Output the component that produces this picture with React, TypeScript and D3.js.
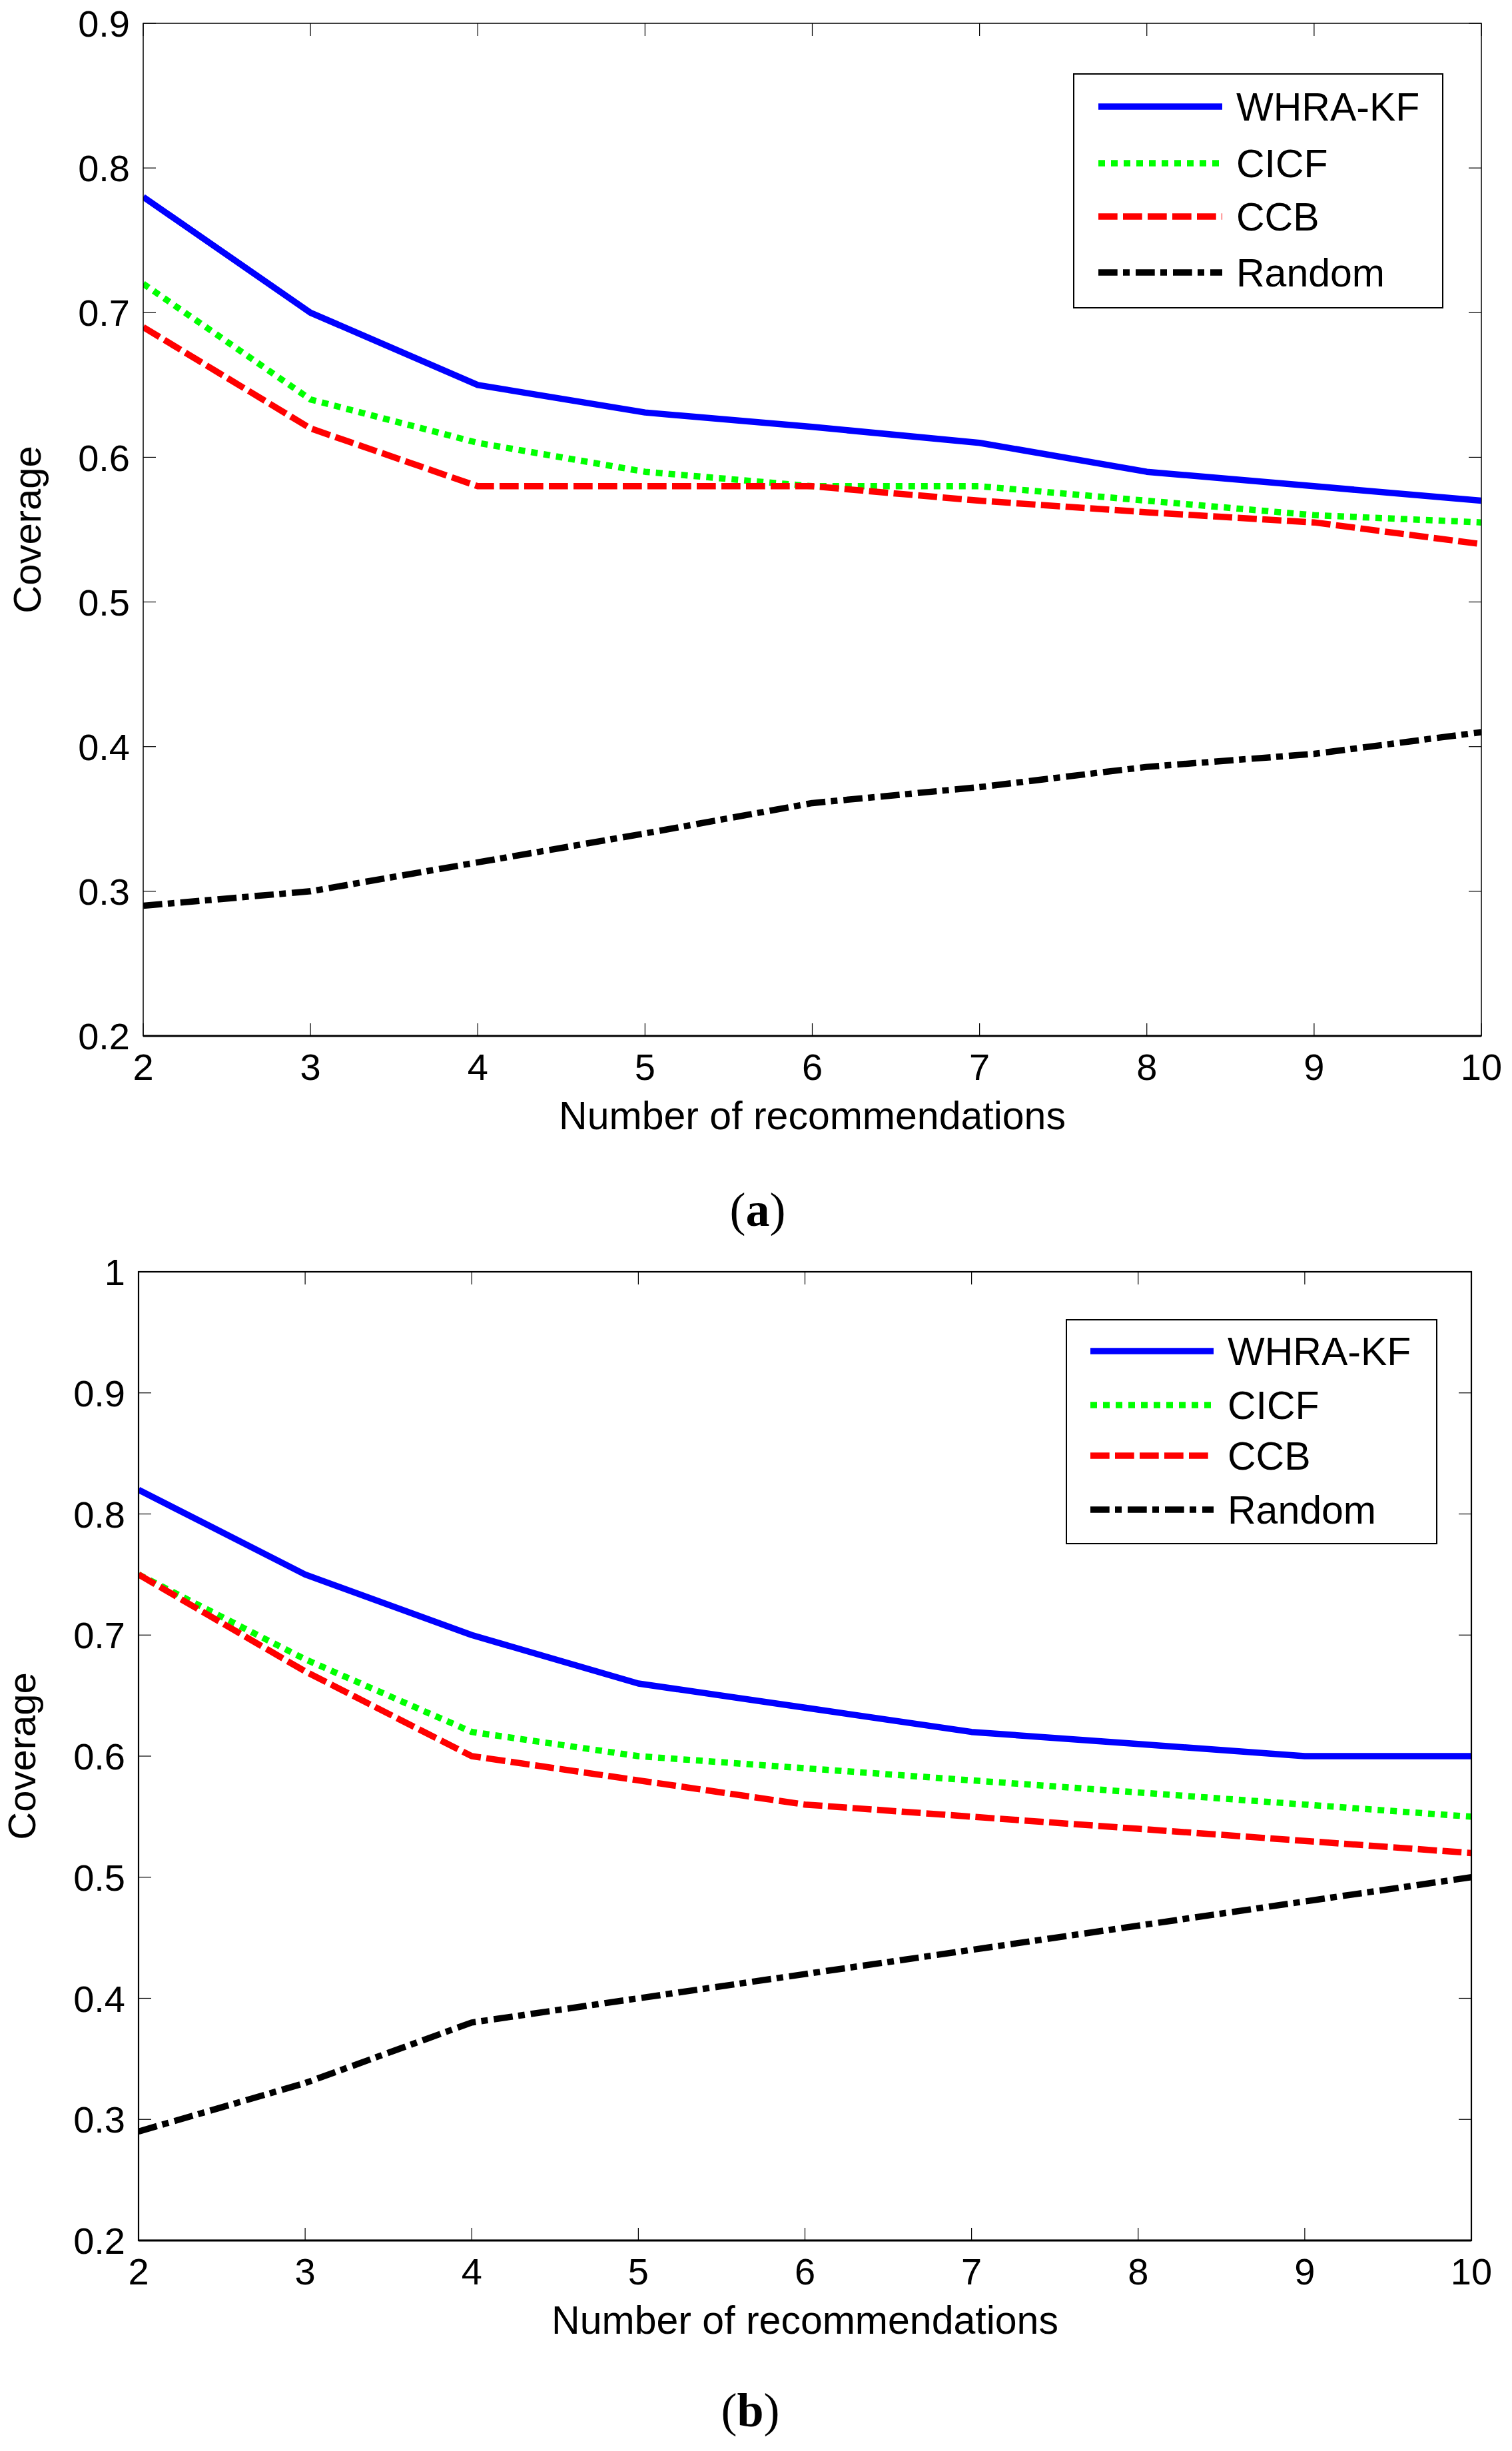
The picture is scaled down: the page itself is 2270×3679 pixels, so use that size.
import * as d3 from "d3";

const recommendations = [2, 3, 4, 5, 6, 7, 8, 9, 10];
const seriesNames = ["WHRA-KF", "CICF", "CCB", "Random"];

// panel (a)
const whraA = [0.78, 0.7, 0.65, 0.631, 0.621, 0.61, 0.59, 0.58, 0.57];
const cicfA = [0.72, 0.64, 0.61, 0.59, 0.58, 0.58, 0.57, 0.56, 0.555];
const ccbA = [0.69, 0.62, 0.58, 0.58, 0.58, 0.57, 0.562, 0.555, 0.54];
const randomA = [0.29, 0.3, 0.32, 0.34, 0.361, 0.372, 0.386, 0.395, 0.41];
const yTicksA = [0.2, 0.3, 0.4, 0.5, 0.6, 0.7, 0.8, 0.9];

// panel (b)
const whraB = [0.82, 0.75, 0.7, 0.66, 0.64, 0.62, 0.61, 0.6, 0.6];
const cicfB = [0.75, 0.68, 0.62, 0.6, 0.59, 0.58, 0.57, 0.56, 0.55];
const ccbB = [0.75, 0.67, 0.6, 0.58, 0.56, 0.55, 0.54, 0.53, 0.52];
const randomB = [0.29, 0.33, 0.38, 0.4, 0.42, 0.44, 0.46, 0.48, 0.5];
const yTicksB = [0.2, 0.3, 0.4, 0.5, 0.6, 0.7, 0.8, 0.9, 1];

const styles = [
  { color: "#0000ff", dash: "none" },
  { color: "#00ff00", dash: "10,9" },
  { color: "#ff0000", dash: "28.7,8.3" },
  { color: "#000000", dash: "28.7,8.3,10,9" },
];

const FONT = "'Liberation Sans', Arial, sans-serif";
const SERIF = "'Liberation Serif', 'Times New Roman', serif";

interface PanelProps {
  id: string;
  series: number[][];
  yTicks: number[];
  box: { left: number; right: number; top: number; bottom: number };
  frame: number;
  ylabelX: number;
  legend: { left: number; right: number; top: number; bottom: number; rows: number[]; lineX: [number, number]; textX: number };
  caption: string;
  captionY: number;
}

function Panel({ id, series, yTicks, box, frame, ylabelX, legend, caption, captionY }: PanelProps) {
  const x = d3.scaleLinear().domain([2, 10]).range([box.left, box.right]);
  const y = d3
    .scaleLinear()
    .domain([yTicks[0], yTicks[yTicks.length - 1]])
    .range([box.bottom, box.top]);
  const line = d3
    .line<number>()
    .x((_, i) => x(recommendations[i]))
    .y((d) => y(d));
  const tick = 19;
  const midX = (box.left + box.right) / 2;
  const midY = (box.top + box.bottom) / 2;

  return (
    <g>
      <defs>
        <clipPath id={`clip-${id}`}>
          <rect x={box.left} y={box.top} width={box.right - box.left} height={box.bottom - box.top} />
        </clipPath>
      </defs>
      <rect x={box.left} y={box.top} width={box.right - box.left} height={box.bottom - box.top} fill="#fff" />

      {/* ticks, all four sides, pointing in */}
      {recommendations.map((r) => (
        <g key={`xt-${r}`} stroke="#000" strokeWidth={1.2}>
          <line x1={x(r)} x2={x(r)} y1={box.bottom} y2={box.bottom - tick} />
          <line x1={x(r)} x2={x(r)} y1={box.top} y2={box.top + tick} />
        </g>
      ))}
      {yTicks.map((t) => (
        <g key={`yt-${t}`} stroke="#000" strokeWidth={1.2}>
          <line x1={box.left} x2={box.left + tick} y1={y(t)} y2={y(t)} />
          <line x1={box.right} x2={box.right - tick} y1={y(t)} y2={y(t)} />
        </g>
      ))}

      {/* series */}
      <g clipPath={`url(#clip-${id})`}>
        {series.map((s, i) => (
          <path
            key={seriesNames[i]}
            d={line(s) ?? ""}
            fill="none"
            stroke={styles[i].color}
            strokeWidth={9.5}
            strokeDasharray={styles[i].dash}
            strokeLinejoin="round"
          />
        ))}
      </g>

      {/* frame */}
      <rect
        x={box.left}
        y={box.top}
        width={box.right - box.left}
        height={box.bottom - box.top}
        fill="none"
        stroke="#000"
        strokeWidth={frame}
      />
      <line x1={box.left} x2={box.right} y1={box.bottom} y2={box.bottom} stroke="#000" strokeWidth={3} />

      {/* tick labels */}
      <g fontFamily={FONT} fontSize={56} fill="#000">
        {recommendations.map((r) => (
          <text key={`xl-${r}`} x={x(r)} y={box.bottom + 66} textAnchor="middle">
            {r}
          </text>
        ))}
        {yTicks.map((t) => (
          <text key={`yl-${t}`} x={box.left - 20} y={y(t)} dy="0.36em" textAnchor="end">
            {d3.format("~g")(t)}
          </text>
        ))}
        <text x={midX} y={box.bottom + 140} textAnchor="middle" fontSize={59}>
          Number of recommendations
        </text>
        <text transform={`translate(${ylabelX},${midY}) rotate(-90)`} dy="0.36em" textAnchor="middle" fontSize={58}>
          Coverage
        </text>
      </g>

      {/* legend */}
      <rect
        x={legend.left}
        y={legend.top}
        width={legend.right - legend.left}
        height={legend.bottom - legend.top}
        fill="#fff"
        stroke="#000"
        strokeWidth={2}
      />
      {seriesNames.map((name, i) => (
        <g key={`lg-${name}`}>
          <line
            x1={legend.lineX[0]}
            x2={legend.lineX[1]}
            y1={legend.rows[i]}
            y2={legend.rows[i]}
            stroke={styles[i].color}
            strokeWidth={9.5}
            strokeDasharray={styles[i].dash}
          />
          <text x={legend.textX} y={legend.rows[i]} dy="0.36em" fontFamily={FONT} fontSize={59} fill="#000">
            {name}
          </text>
        </g>
      ))}

      {/* caption */}
      <text x={midX - 82} y={captionY} textAnchor="middle" fontFamily={SERIF} fontSize={72} fill="#000">
        (<tspan fontWeight="bold">{caption}</tspan>)
      </text>
    </g>
  );
}

export default function App() {
  return (
    <div style={{ position: "absolute", left: 0, top: 0, width: 2270, height: 3679, background: "#fff" }}>
      <svg width={2270} height={3679} viewBox="0 0 2270 3679">
        <rect width={2270} height={3679} fill="#fff" />
        <Panel
          id="a"
          series={[whraA, cicfA, ccbA, randomA]}
          yTicks={yTicksA}
          box={{ left: 215, right: 2224, top: 35, bottom: 1555 }}
          frame={1.5}
          ylabelX={40}
          legend={{
            left: 1612,
            right: 2166,
            top: 111,
            bottom: 462,
            rows: [160, 245, 325, 409],
            lineX: [1649, 1835],
            textX: 1856,
          }}
          caption="a"
          captionY={1840}
        />
        <Panel
          id="b"
          series={[whraB, cicfB, ccbB, randomB]}
          yTicks={yTicksB}
          box={{ left: 208, right: 2209, top: 1909, bottom: 3363 }}
          frame={2.2}
          ylabelX={32}
          legend={{
            left: 1601,
            right: 2157,
            top: 1981,
            bottom: 2317,
            rows: [2028, 2109, 2185, 2266],
            lineX: [1637, 1822],
            textX: 1843,
          }}
          caption="b"
          captionY={3642}
        />
      </svg>
    </div>
  );
}
